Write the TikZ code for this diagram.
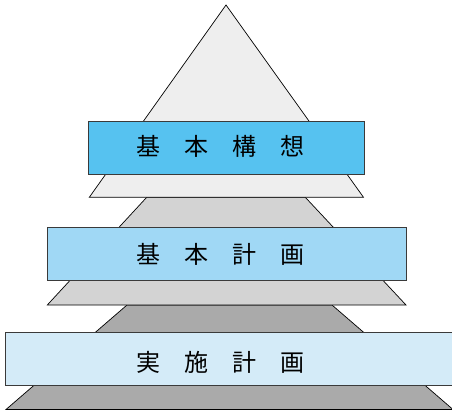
\documentclass[tikz,border=0pt]{standalone}
\usepackage{fontspec}
\newfontfamily\cjk{Noto Sans CJK JP}
\definecolor{tri1}{HTML}{EEEEEE}
\definecolor{tri2}{HTML}{D3D3D3}
\definecolor{tri3}{HTML}{AAAAAA}
\definecolor{box1}{HTML}{56C2F0}
\definecolor{box2}{HTML}{A0D8F5}
\definecolor{box3}{HTML}{D4EBF8}
\definecolor{boxline}{HTML}{3A3A3A}
\tikzset{
  layer/.style={draw=black, line width=0.7pt, line join=miter},
  bandbox/.style={draw=boxline, line width=1pt, rectangle, inner sep=0pt},
  bandtext/.style={font=\cjk\fontsize{24}{24}\selectfont, inner sep=0pt, text=black},
}
\begin{document}
\begin{tikzpicture}[x=1pt,y=-1pt]
\useasboundingbox (0,0) rectangle (452,412);
\clip (0,0) rectangle (452,412);
% pyramid layers
\path[layer, fill=tri3] (127,305) -- (332,305) -- (453,409.5) -- (6,409.5) -- cycle;
\path[layer, fill=tri2] (146.7,197.3) -- (305.3,197.3) -- (406,305) -- (47.3,305) -- cycle;
\path[layer, fill=tri1] (226,5) -- (363.5,197.3) -- (89.3,197.3) -- cycle;
% bands
\node[bandbox, fill=box1, minimum width=275.5pt, minimum height=52.3pt] (b1) at (226.25,147.85) {};
\node[bandbox, fill=box2, minimum width=359pt, minimum height=52.3pt] (b2) at (226.5,253.85) {};
\node[bandbox, fill=box3, minimum width=460pt, minimum height=53pt] (b3) at (235,359.3) {};
\node[bandtext] (t1) at (220,146.5) {基　本　構　想};
\node[bandtext] (t2) at (220,254) {基　本　計　画};
\node[bandtext] (t3) at (220,362.5) {実　施　計　画};
\end{tikzpicture}
\end{document}
